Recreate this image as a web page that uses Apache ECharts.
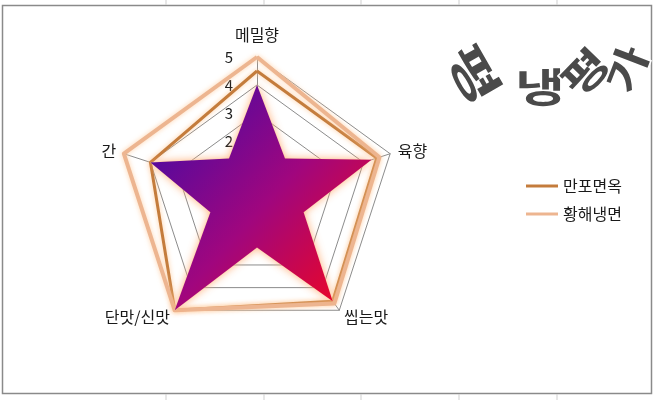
<!DOCTYPE html>
<html><head><meta charset="utf-8">
<script src="https://cdn.jsdelivr.net/npm/echarts@6/dist/echarts.min.js"></script>
<style>html,body{margin:0;padding:0;background:#fff}#c{width:654px;height:400px}</style>
</head><body><div id="c"></div>
<script>
// categories listed clockwise from the top, as in the reference
const indicators = ['메밀향', '육향', '씹는맛', '단맛/신맛', '간'];
const seriesNames = ['만포면옥', '황해냉면'];
const manpo = [4.5, 4.5, 4.6, 5, 4];
const hwanghae = [5, 4.6, 4.7, 5, 5];
const maxValue = 5;
const tickLabels = ['2', '3', '4', '5'];
// decorative star: outer tips on the 5 axes, inner corners between them (clockwise)
const starOuter = [4, 4.3, 4.6, 5, 4];
const starInner = [1.7, 1.75, 1.8, 1.75, 1.7];
const titleChars = ['평', '냉', '평', '가'];

// ECharts radar runs counter-clockwise: reorder clockwise lists
const cw = arr => [arr[0]].concat(arr.slice(1).reverse());
const starCW = [];
for (let i = 0; i < starOuter.length; i++) { starCW.push(starOuter[i], starInner[i]); }

const FONT = '"Noto Sans CJK KR", "Noto Sans", sans-serif';
const chart = echarts.init(document.getElementById('c'), null, {renderer: 'canvas'});

// [x, y, rotation, fontSize, scaleX]
const charPos = [[474, 74, -1.05, 44, 1.5], [540, 87, 0, 40, 1.35], [585, 72, 0.8, 40, 1.3], [627, 69, 1.2, 40, 1.25]];
const wordArt = titleChars.map((ch, i) => ({
  type: 'text', x: charPos[i][0], y: charPos[i][1], rotation: charPos[i][2], z: 10,
  scaleX: charPos[i][4], scaleY: 1,
  style: {
    text: ch, x: 0, y: 0, align: 'center', verticalAlign: 'middle',
    font: 'bold ' + charPos[i][3] + 'px ' + FONT,
    fill: '#4a4a4a',
    stroke: '#fff', lineWidth: 3,
    shadowBlur: 5, shadowColor: 'rgba(0,0,0,0.5)', shadowOffsetX: 1, shadowOffsetY: 2
  }
}));

const cellLines = [166, 264, 361, 459, 557].flatMap(x => [
  {type: 'line', shape: {x1: x, y1: 0, x2: x, y2: 5}, style: {stroke: '#cfcfcf', lineWidth: 1}},
  {type: 'line', shape: {x1: x, y1: 394, x2: x, y2: 400}, style: {stroke: '#cfcfcf', lineWidth: 1}}
]);

const option = {
  backgroundColor: '#fff',
  animation: false,
  textStyle: {fontFamily: FONT},
  graphic: [
    {type: 'rect', shape: {x: 2.5, y: 5.5, width: 649, height: 388}, style: {fill: 'none', stroke: '#8a8a8a', lineWidth: 1.5}, z: -1},
    ...cellLines,
    ...wordArt
  ],
  legend: {
    data: seriesNames,
    orient: 'vertical',
    left: 521, top: 173,
    icon: 'rect', itemWidth: 32, itemHeight: 3, itemGap: 12,
    textStyle: {fontSize: 16, color: '#1a1a1a', fontFamily: FONT}
  },
  radar: [
    {
      center: [257, 197], radius: 140, startAngle: 90, shape: 'polygon',
      splitNumber: 5,
      indicator: cw(indicators).map((n, i) => i === 0
        ? {name: n, max: maxValue, min: 0, nameGap: 14, axisLabel: {show: true}}
        : {name: n, max: maxValue, min: 0}),
      axisName: {color: '#1a1a1a', fontSize: 16, fontFamily: FONT},
      nameGap: 8,
      splitLine: {lineStyle: {color: '#8c8c8c', width: 1}},
      splitArea: {show: false},
      axisLine: {lineStyle: {color: '#8c8c8c', width: 1}},
      axisTick: {show: false},
      axisLabel: {
        show: false, fontSize: 15, color: '#1a1a1a', margin: 24, fontFamily: FONT,
        formatter: v => tickLabels.indexOf(String(v)) >= 0 ? String(v) : ''
      }
    },
    {
      center: [257, 197], radius: 140, startAngle: 90, shape: 'polygon',
      indicator: starCW.map(() => ({name: '', max: maxValue, min: 0})),
      axisName: {show: false},
      splitLine: {show: false}, splitArea: {show: false},
      axisLine: {show: false}, axisTick: {show: false}, axisLabel: {show: false}
    }
  ],
  series: [
    {
      type: 'radar', radarIndex: 0, name: seriesNames[0], symbol: 'none', z: 3,
      color: '#C47C3C',
      lineStyle: {color: '#C47C3C', width: 3, shadowBlur: 5, shadowColor: 'rgba(255,190,130,0.8)'},
      data: [{value: cw(manpo), name: seriesNames[0]}]
    },
    {
      type: 'radar', radarIndex: 0, name: seriesNames[1], symbol: 'none', z: 3,
      color: '#EDB590',
      lineStyle: {color: '#EDB590', width: 4, shadowBlur: 5, shadowColor: 'rgba(255,200,150,0.8)'},
      data: [{value: cw(hwanghae), name: seriesNames[1]}]
    },
    {
      type: 'radar', radarIndex: 1, name: 'star', symbol: 'none', z: 4, silent: true,
      lineStyle: {width: 0.5, color: 'rgba(255,200,170,0.8)', shadowBlur: 8, shadowColor: 'rgba(255,170,110,0.9)'},
      areaStyle: {
        opacity: 1,
        color: new echarts.graphic.LinearGradient(0.05, 0.15, 0.95, 0.95, [
          {offset: 0, color: '#4a0aa2'},
          {offset: 0.5, color: '#a0067e'},
          {offset: 1, color: '#f2061e'}
        ]),
        shadowBlur: 8, shadowColor: 'rgba(255,170,110,0.9)'
      },
      data: [{value: cw(starCW), name: 'star'}]
    }
  ]
};
chart.setOption(option);
</script></body></html>
